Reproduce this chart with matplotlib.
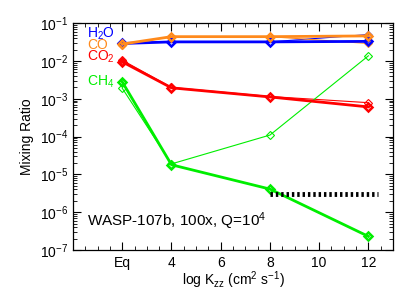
import matplotlib
matplotlib.use('Agg')
import matplotlib.pyplot as plt
from matplotlib.ticker import MultipleLocator, LogLocator, NullFormatter

plt.rcParams['font.family'] = ['Liberation Sans', 'DejaVu Sans']
plt.rcParams['mathtext.fontset'] = 'custom'
plt.rcParams['mathtext.rm'] = 'Liberation Sans'
plt.rcParams['mathtext.it'] = 'Liberation Sans'

# x positions: "Eq" is drawn at 2
kzz = [2, 4, 8, 12]
xticks = [2, 4, 6, 8, 10, 12]
xticklabels = ['Eq', '4', '6', '8', '10', '12']

# thick lines (filled diamonds)
h2o = [2.9e-2, 3.2e-2, 3.2e-2, 3.3e-2]
co = [2.8e-2, 4.4e-2, 4.4e-2, 4.6e-2]
co2 = [9.5e-3, 1.95e-3, 1.12e-3, 6.1e-4]
ch4 = [2.8e-3, 1.8e-5, 4.1e-6, 2.3e-7]

# thin lines (open diamonds)
h2o_thin = [3.0e-2, 3.2e-2, 3.2e-2, 5.0e-2]
co_thin = [2.7e-2, 4.4e-2, 4.4e-2, 2.9e-2]
co2_thin = [1.05e-2, 2.0e-3, 1.15e-3, 7.9e-4]
ch4_thin = [1.9e-3, 1.9e-5, 1.1e-4, 1.37e-2]

# dotted black level
dot_x = [8, 12.4]
dot_y = [3.0e-6, 3.0e-6]

blue = '#0000ff'
orange = '#ff8a1c'
red = '#ff0000'
green = '#00ee00'

fig = plt.figure(figsize=(4.15, 2.97), dpi=100)
ax = fig.add_axes([0.176, 0.158, 0.771, 0.764])

series = [(h2o, h2o_thin, blue), (co, co_thin, orange),
          (co2, co2_thin, red), (ch4, ch4_thin, green)]
for thick, thin, c in series:
    ax.plot(kzz, thin, color=c, lw=0.8, marker='D', ms=4, mfc='none', mew=0.8)
for thick, thin, c in series:
    ax.plot(kzz, thick, color=c, lw=2.0, marker='D', ms=4.5, mfc='none', mew=1.8)

ax.plot(dot_x, dot_y, color='black', lw=3.5, ls=(0, (0.5, 0.6)))

ax.set_yscale('log')
ax.set_ylim(1e-7, 1e-1)
ax.set_xlim(0, 13)
ax.set_xticks(xticks)
ax.set_xticklabels(xticklabels)
ax.xaxis.set_minor_locator(MultipleLocator(0.5))
ax.yaxis.set_major_locator(LogLocator(base=10, numticks=10))
ax.yaxis.set_minor_locator(LogLocator(base=10, subs=range(2, 10), numticks=20))
ax.yaxis.set_minor_formatter(NullFormatter())
ax.tick_params(which='both', direction='in', top=True, right=True, labelsize=10)
ax.tick_params(which='major', length=6, width=0.8)
ax.tick_params(which='minor', length=3, width=0.6)
ax.tick_params(axis='x', pad=4)

ax.set_xlabel('log K$_{zz}$ (cm$^{2}$ s$^{-1}$)', fontsize=10, labelpad=0)
ax.set_ylabel('Mixing Ratio', fontsize=10)

ax.text(0.045, 0.953, 'H$_2$O', color=blue, transform=ax.transAxes, fontsize=10, va='center')
ax.text(0.045, 0.905, 'CO', color=orange, transform=ax.transAxes, fontsize=10, va='center')
ax.text(0.045, 0.850, 'CO$_2$', color=red, transform=ax.transAxes, fontsize=10, va='center')
ax.text(0.045, 0.742, 'CH$_4$', color=green, transform=ax.transAxes, fontsize=10, va='center')
ax.text(0.045, 0.105, 'WASP-107b, 100x, Q=10$^4$', transform=ax.transAxes, fontsize=11)

for s in ax.spines.values():
    s.set_linewidth(0.9)

fig.savefig('out.png', dpi=100)
